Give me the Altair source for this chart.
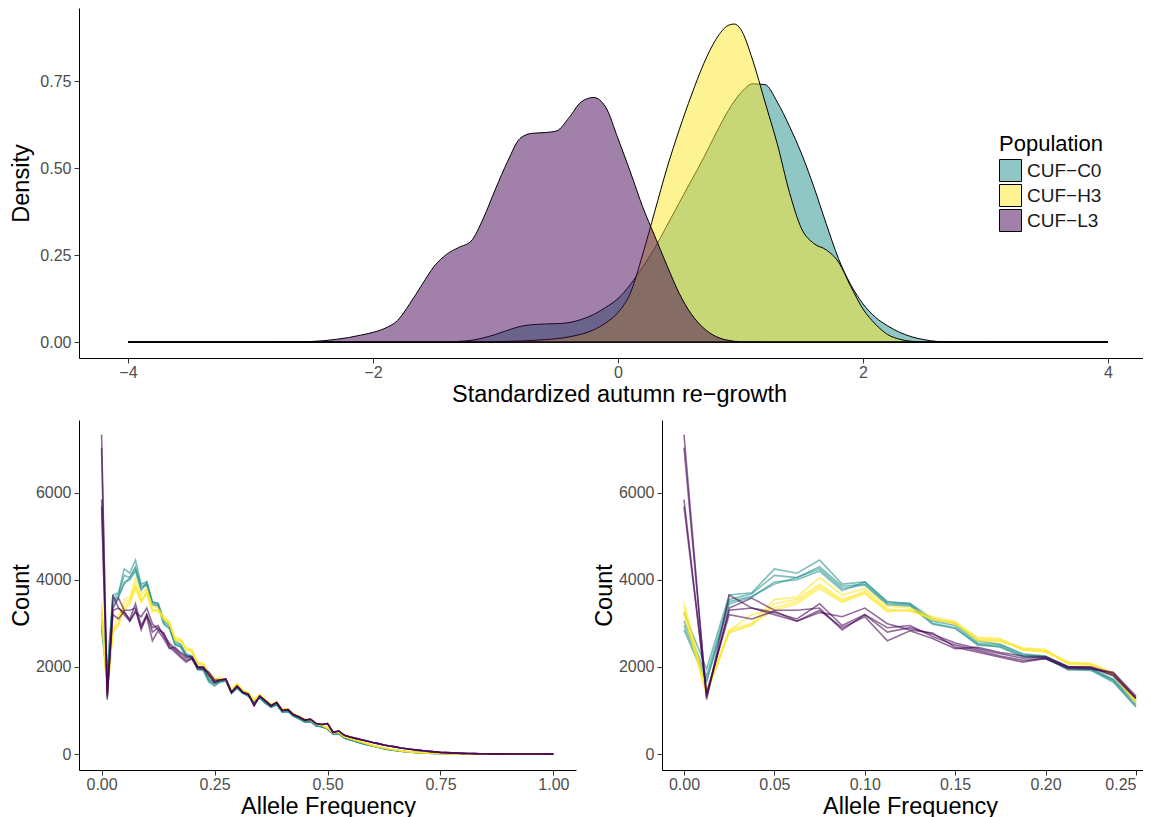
import altair as alt
import pandas as pd

POPS = ["CUF-C0", "CUF-H3", "CUF-L3"]
FILL_COLORS = ["rgba(33,144,140,0.5)", "rgba(253,231,37,0.5)", "rgba(68,1,84,0.5)"]
LINE_COLORS = ["rgba(33,144,140,0.58)", "rgba(253,231,37,0.62)", "rgba(68,1,84,0.58)"]

# ---------------- density curves (top panel) ----------------
C0_X = [-4, -2, -1.4, -1.3, -1.2, -1.1, -1.0, -0.9, -0.8, -0.7, -0.6, -0.5, -0.4, -0.3, -0.2, -0.1, 0, 0.1, 0.2, 0.3,
        0.4, 0.5, 0.6, 0.7, 0.8, 0.9, 1.0, 1.1, 1.2, 1.3, 1.4, 1.5, 1.6, 1.7, 1.8, 1.9, 2.0, 2.1, 2.2, 2.3,
        2.4, 2.5, 2.6, 2.8, 3.0, 4.0]
C0_D = [0, 0, 0, 0.002, 0.005, 0.012, 0.022, 0.034, 0.045, 0.05, 0.052, 0.053, 0.056, 0.065, 0.079, 0.1, 0.125, 0.165, 0.215, 0.27,
        0.335, 0.4, 0.465, 0.53, 0.6, 0.665, 0.715, 0.742, 0.74, 0.69, 0.62, 0.54, 0.445, 0.34, 0.24, 0.165, 0.11, 0.072, 0.047, 0.028,
        0.015, 0.007, 0.002, 0, 0, 0]

H3_X = [-4, -1.2, -1.0, -0.8, -0.6, -0.4, -0.2, -0.1, 0, 0.1, 0.2, 0.3, 0.4, 0.5, 0.6, 0.7, 0.8, 0.9, 0.95, 1.0,
        1.1, 1.2, 1.3, 1.4, 1.5, 1.6, 1.7, 1.8, 1.9, 2.0, 2.1, 2.2, 2.3, 2.4, 2.5, 3.0, 4.0]
H3_D = [0, 0, 0.001, 0.003, 0.007, 0.015, 0.035, 0.055, 0.085, 0.14, 0.25, 0.375, 0.5, 0.61, 0.71, 0.8, 0.87, 0.91, 0.914, 0.9,
        0.81, 0.69, 0.57, 0.43, 0.325, 0.283, 0.265, 0.23, 0.16, 0.095, 0.052, 0.022, 0.008, 0.002, 0, 0, 0]

L3_X = [-4, -3, -2.6, -2.4, -2.3, -2.2, -2.1, -2.0, -1.9, -1.8, -1.7, -1.6, -1.5, -1.4, -1.3, -1.2, -1.1, -1.0, -0.9, -0.8,
        -0.7, -0.6, -0.5, -0.4, -0.3, -0.2, -0.1, 0.0, 0.1, 0.2, 0.3, 0.4, 0.5, 0.6, 0.7, 0.8, 0.9, 1.0, 1.2, 2.0,
        3.0, 4.0]
L3_D = [0, 0, 0.001, 0.004, 0.008, 0.013, 0.02, 0.028, 0.04, 0.062, 0.11, 0.165, 0.218, 0.252, 0.272, 0.29, 0.355, 0.44, 0.52, 0.585,
        0.6, 0.602, 0.607, 0.645, 0.69, 0.703, 0.675, 0.585, 0.49, 0.39, 0.305, 0.22, 0.14, 0.08, 0.04, 0.016, 0.005, 0.001, 0, 0,
        0, 0]

# ---------------- allele frequency spectra (bottom panels) ----------------
FREQ = [0.0, 0.0125, 0.025, 0.0375, 0.05, 0.0625, 0.075, 0.0875, 0.1, 0.1125, 0.125, 0.1375, 0.15, 0.1625, 0.175,
        0.1875, 0.2, 0.2125, 0.225, 0.2375, 0.25,
        0.2625, 0.275, 0.2875, 0.3, 0.3125, 0.325, 0.3375, 0.35, 0.3625, 0.375, 0.3875, 0.4, 0.4125, 0.425, 0.4375,
        0.45, 0.4625, 0.475, 0.4875, 0.5, 0.5125, 0.525, 0.5375, 0.55, 0.5625, 0.575, 0.5875, 0.6, 0.6125, 0.625,
        0.6375, 0.65, 0.6625, 0.675, 0.6875, 0.7, 0.7125, 0.725, 0.7375, 0.75, 0.7625, 0.775, 0.7875, 0.8, 0.8125,
        0.825, 0.8375, 0.85, 0.8625, 0.875, 0.8875, 0.9, 0.9125, 0.925, 0.9375, 0.95, 0.9625, 0.975, 0.9875, 1.0]

# replicate counts for frequencies 0 .. 0.25 (full-range binning)
C0_R1 = [3250, 1950, 3650, 3700, 4250, 4150, 4450, 3900, 3950, 3500, 3450, 3050, 2950, 2550, 2500, 2280, 2230, 1980, 1950, 1700, 1620]
C0_R2 = [3050, 1800, 3550, 3680, 4100, 4050, 4300, 3850, 3900, 3450, 3430, 3000, 2900, 2500, 2470, 2250, 2220, 1950, 1940, 1680, 1580]
C0_R3 = [2950, 1700, 3450, 3600, 3950, 4000, 4200, 3750, 3950, 3480, 3460, 3100, 3000, 2600, 2520, 2300, 2250, 2000, 1970, 1720, 1640]
C0_R4 = [2850, 1650, 3500, 3620, 3900, 4050, 4250, 3800, 3880, 3420, 3400, 2980, 2880, 2520, 2450, 2230, 2200, 1930, 1920, 1650, 1560]

H3_R1 = [3480, 1450, 2850, 3000, 3550, 3600, 4050, 3650, 3800, 3400, 3350, 3150, 3050, 2650, 2620, 2420, 2380, 2100, 2070, 1850, 1720]
H3_R2 = [3300, 1400, 2800, 2950, 3450, 3550, 3900, 3550, 3700, 3300, 3300, 3100, 3000, 2620, 2600, 2400, 2340, 2080, 2050, 1820, 1690]
H3_R3 = [3200, 1350, 2830, 3200, 3350, 3500, 3850, 3500, 3750, 3320, 3280, 3120, 2980, 2680, 2650, 2380, 2360, 2110, 2080, 1870, 1740]
H3_R4 = [3380, 1420, 2780, 2980, 3300, 3450, 3800, 3480, 3680, 3260, 3310, 3080, 3020, 2600, 2580, 2440, 2400, 2060, 2040, 1800, 1670]

L3_R1 = [7330, 1250, 3650, 3350, 3250, 3100, 3450, 2950, 3200, 2800, 2900, 2750, 2550, 2420, 2300, 2200, 2220, 2000, 2000, 1850, 1680]
L3_R2 = [7030, 1300, 3350, 3580, 3300, 3300, 3350, 2850, 3200, 2900, 2950, 2700, 2500, 2380, 2250, 2150, 2180, 1980, 1980, 1820, 1650]
L3_R3 = [5840, 1350, 3300, 3350, 3200, 3050, 3250, 3150, 3350, 2990, 2850, 2780, 2450, 2340, 2220, 2110, 2200, 1960, 1950, 1880, 1700]
L3_R4 = [5680, 1400, 3200, 3100, 3280, 3050, 3300, 2900, 3150, 2600, 2830, 2650, 2420, 2450, 2330, 2250, 2240, 2010, 1990, 1790, 1630]

# last (half-width) bin at 0.25 in the zoomed panel, per replicate
C0_ZOOM_END = [1150, 1100, 1200, 1080]
H3_ZOOM_END = [1250, 1200, 1230, 1180]
L3_ZOOM_END = [1300, 1280, 1330, 1270]

# population counts for frequencies 0.2625 .. 1.0 (replicates overlap there)
C0_TAIL = [1660, 1680, 1400, 1520, 1400, 1330, 1200, 1290, 1170, 1080, 1130, 970, 980, 870, 810, 740, 750, 650, 630, 580,
           460, 470, 370, 330, 290, 250, 215, 185, 155, 125, 100, 85, 68, 54, 43, 34, 27, 21, 16, 12,
           9, 7, 5, 4, 3, 2, 2, 1, 1, 1, 1, 0, 0, 0, 0, 0, 0, 0, 0, 0]
H3_TAIL = [1740, 1700, 1470, 1610, 1460, 1400, 1240, 1360, 1240, 1140, 1190, 1020, 1030, 920, 860, 790, 790, 690, 660, 600,
           490, 500, 400, 360, 320, 280, 240, 200, 170, 140, 115, 95, 75, 60, 48, 38, 30, 24, 18, 14,
           11, 8, 6, 5, 4, 3, 2, 2, 1, 1, 1, 1, 0, 0, 0, 0, 0, 0, 0, 0]
L3_TAIL = [1700, 1720, 1420, 1560, 1420, 1370, 1120, 1330, 1220, 1110, 1180, 1000, 1020, 900, 850, 780, 800, 700, 680, 700,
           500, 530, 430, 390, 360, 330, 300, 265, 240, 210, 185, 165, 140, 122, 105, 90, 75, 62, 50, 40,
           33, 27, 22, 17, 14, 11, 9, 7, 6, 5, 4, 3, 3, 2, 2, 1, 1, 1, 0, 0]

# ---------------- build tables ----------------
dens_rows = []
for pop, xs, ds in [("CUF-C0", C0_X, C0_D), ("CUF-H3", H3_X, H3_D), ("CUF-L3", L3_X, L3_D)]:
    for x, d in zip(xs, ds):
        dens_rows.append({"pop": pop, "x": x, "d": d})
dens = pd.DataFrame(dens_rows)

groups = [
    ("CUF-C0", [C0_R1, C0_R2, C0_R3, C0_R4], C0_ZOOM_END, C0_TAIL),
    ("CUF-H3", [H3_R1, H3_R2, H3_R3, H3_R4], H3_ZOOM_END, H3_TAIL),
    ("CUF-L3", [L3_R1, L3_R2, L3_R3, L3_R4], L3_ZOOM_END, L3_TAIL),
]
full_rows, zoom_rows = [], []
for pop, reps, zend, tail in groups:
    for i, head in enumerate(reps):
        rep = f"{pop}-{i + 1}"
        for f, c in zip(FREQ, head + tail):
            full_rows.append({"pop": pop, "rep": rep, "freq": f, "count": c})
        for f, c in zip(FREQ[:21], head[:20] + [zend[i]]):
            zoom_rows.append({"pop": pop, "rep": rep, "freq": f, "count": c})
afs_full = pd.DataFrame(full_rows)
afs_zoom = pd.DataFrame(zoom_rows)

top = alt.Chart(dens).mark_area(
    stroke="black", strokeWidth=1, interpolate="monotone"
).encode(
    x=alt.X("x:Q", scale=alt.Scale(domain=[-4.4, 4.286], nice=False, zero=False),
            axis=alt.Axis(values=[-4, -2, 0, 2, 4], format="d", title="Standardized autumn re\u2212growth",
                          titleX=540)),
    y=alt.Y("d:Q", stack=None, scale=alt.Scale(domain=[-0.0457, 0.96], nice=False, zero=False),
            axis=alt.Axis(values=[0, 0.25, 0.5, 0.75], format=".2f", title="Density")),
    y2=alt.datum(0),
    color=alt.Color("pop:N", scale=alt.Scale(domain=POPS, range=FILL_COLORS),
                    legend=alt.Legend(title="Population", orient="none", legendX=920, legendY=126,
                                      symbolType="square", symbolSize=484, symbolStrokeColor="black",
                                      symbolStrokeWidth=1, labelFontSize=19, titleFontSize=22,
                                      titleFontWeight="normal", titleColor="black", labelColor="#1a1a1a",
                                      rowPadding=-3, labelOffset=5, titlePadding=3,
                                      labelExpr="replace(datum.label, '-', '\u2212')",
                                      labelFont="Liberation Sans", titleFont="Liberation Sans")),
).properties(width=1064, height=350)


def afs_panel(data, ticks, dom, width, flush, title_x):
    return alt.Chart(data).mark_line(strokeWidth=1.6).encode(
        x=alt.X("freq:Q", scale=alt.Scale(domain=dom, nice=False, zero=False),
                axis=alt.Axis(values=ticks, format=".2f", title="Allele Frequency", labelFlush=flush,
                              titleX=title_x)),
        y=alt.Y("count:Q", scale=alt.Scale(domain=[-365, 7665], nice=False, zero=False),
                axis=alt.Axis(values=[0, 2000, 4000, 6000], format="d", title="Count")),
        color=alt.Color("pop:N", scale=alt.Scale(domain=POPS, range=LINE_COLORS), legend=None),
        detail="rep:N",
    ).properties(width=width, height=350)


bl = afs_panel(afs_full, [0, 0.25, 0.5, 0.75, 1.0], [-0.05, 1.05], 497, 0, 249)
br = afs_panel(afs_zoom, [0, 0.05, 0.1, 0.15, 0.2, 0.25], [-0.01217, 0.2539], 481, 10, 248)

chart = alt.vconcat(
    top, alt.hconcat(bl, br, spacing=16), spacing=14
).resolve_scale(color="independent").properties(
    padding={"left": 1, "top": 0, "right": 0, "bottom": 0}
).configure_view(stroke=None).configure_axis(
    domainColor="black", domainWidth=1, tickColor="#333333", tickSize=5, tickWidth=1,
    labelFontSize=16, labelColor="#4d4d4d", labelFont="Liberation Sans",
    titleFont="Liberation Sans", titleFontSize=23.5, titleFontWeight="normal", titleColor="black",
    grid=False,
).configure_axisY(
    minExtent=40, maxExtent=40, titlePadding=6, labelPadding=3
).configure_axisX(
    labelPadding=1, titlePadding=2
)

chart.save("out.html", embed_options={"renderer": "svg", "actions": False})
